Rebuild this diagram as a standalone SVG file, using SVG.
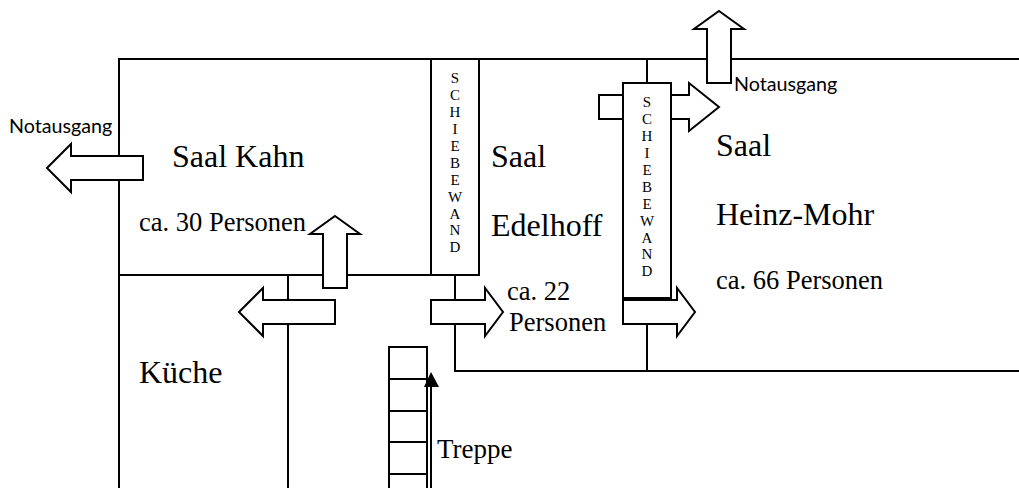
<svg xmlns="http://www.w3.org/2000/svg" width="1019" height="488" viewBox="0 0 1019 488">
<style>
.w{fill:none;stroke:#000;stroke-width:2}
.a{fill:#fff;stroke:#000;stroke-width:2}
.s{fill:#fff;stroke:#000;stroke-width:2}
text{fill:#000;font-family:"Liberation Serif","Times New Roman",serif}
.r{font-size:32px}
.m{font-size:26.500px}
.n{font-family:Lato,"Open Sans",sans-serif;font-size:19.700px}
.v{font-size:15px;text-anchor:middle}
</style>
<rect width="1019" height="488" fill="#fff"/>
<g id="walls">
<path class="w" d="M1019 59H119V488M119 275H431M288 275V488M455 275V371H1019M647 59V83M647 323V371"/>
</g>
<g id="stairs">
<path class="w" d="M389 488V347H427V488M389 379H427M389 411H427M389 442H427M389 474H427"/>
<path class="w" d="M431 384V488"/>
<path d="M431 372L439 387H424Z" fill="#000"/>
</g>
<g id="exit-top"><path class="a" d="M719 11L744 29H731V83H707V29H694Z"/></g>
<g id="door-stub"><path class="a" d="M623 95H599V119H623"/></g>
<g id="arrow-upper-right"><path class="a" d="M671 95H689V83L719 107L689 131V119H671"/></g>
<g id="exit-left"><path class="a" d="M47 168L71 144V156H143V180H71V192Z"/></g>
<g id="arrow-up"><path class="a" d="M335 216L360 234H347V288H323V234H310Z"/></g>
<g id="arrow-kitchen"><path class="a" d="M239 312L263 288V300H335V324H263V336Z"/></g>
<g id="arrow-mid"><path class="a" d="M431 300H485V288L503 312L485 336V324H431Z"/></g>
<g id="arrow-right"><path class="a" d="M623 300H677V288L695 312L677 336V324H623Z"/></g>
<g id="wall-1">
<rect class="s" x="431" y="59" width="48" height="216"/>
<text class="v"><tspan x="455" y="83">S</tspan><tspan x="455" y="100">C</tspan><tspan x="455" y="117">H</tspan><tspan x="455" y="134">I</tspan><tspan x="455" y="151">E</tspan><tspan x="455" y="168">B</tspan><tspan x="455" y="185">E</tspan><tspan x="455" y="202">W</tspan><tspan x="455" y="219">A</tspan><tspan x="455" y="235">N</tspan><tspan x="455" y="252">D</tspan></text>
</g>
<g id="wall-2">
<rect class="s" x="623" y="83" width="48" height="216"/>
<path d="M623 298.500H671" stroke="#000" stroke-width="3"/>
<text class="v"><tspan x="647" y="107">S</tspan><tspan x="647" y="124">C</tspan><tspan x="647" y="141">H</tspan><tspan x="647" y="158">I</tspan><tspan x="647" y="175">E</tspan><tspan x="647" y="192">B</tspan><tspan x="647" y="209">E</tspan><tspan x="647" y="226">W</tspan><tspan x="647" y="243">A</tspan><tspan x="647" y="259">N</tspan><tspan x="647" y="276">D</tspan></text>
</g>
<g id="labels">
<text class="n" x="734" y="91">Notausgang</text>
<text class="n" x="9" y="133">Notausgang</text>
<text class="r" x="172" y="167">Saal Kahn</text>
<text class="m" x="139" y="231">ca. 30 Personen</text>
<text class="r" x="491" y="167">Saal</text>
<text class="r" x="491" y="236">Edelhoff</text>
<text class="m" x="507" y="300">ca. 22</text>
<text class="m" x="509" y="331">Personen</text>
<text class="r" x="716" y="156">Saal</text>
<text class="r" x="716" y="225">Heinz-Mohr</text>
<text class="m" x="716" y="289">ca. 66 Personen</text>
<text class="r" x="139" y="383">Küche</text>
<text class="m" x="437" y="458" font-size="27" style="font-size:27px">Treppe</text>
</g>
</svg>
